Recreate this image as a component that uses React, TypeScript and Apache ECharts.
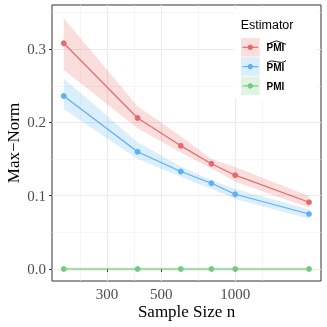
import React, { useEffect, useRef } from "react";
import * as echarts from "echarts";

// ---- data ----
const sampleSizes = [200, 400, 600, 800, 1000, 2000];

const hatValues = [0.308, 0.206, 0.168, 0.1436, 0.128, 0.091];
const hatLower = [0.2715, 0.192, 0.159, 0.137, 0.119, 0.0835];
const hatUpper = [0.342, 0.222, 0.181, 0.15, 0.139, 0.0996];

const tildeValues = [0.236, 0.16, 0.133, 0.117, 0.102, 0.075];
const tildeLower = [0.218, 0.15, 0.126, 0.1096, 0.0955, 0.0685];
const tildeUpper = [0.26, 0.173, 0.14, 0.121, 0.109, 0.081];

const trueValues = [0, 0, 0, 0, 0, 0];
const trueLower = [-0.002, -0.002, -0.002, -0.002, -0.002, -0.002];
const trueUpper = [0.002, 0.002, 0.002, 0.002, 0.002, 0.002];

const xTickLabels = [300, 500, 1000];
const yTickValues = [0, 0.1, 0.2, 0.3];
const yMinorGrid = [0.05, 0.15, 0.25, 0.35];

const RED = "#E8696B";
const BLUE = "#5DB0F2";
const GREEN = "#78C97F";
const RED_FILL = "rgba(232,105,107,0.22)";
const BLUE_FILL = "rgba(93,176,242,0.22)";
const GREEN_FILL = "rgba(120,201,127,0.22)";

const lx = (v: number) => Math.log10(v);
const xs = sampleSizes.map(lx);

// ggplot-style minor breaks (midpoints in transformed space)
const majorT = xTickLabels.map(lx);
const bd = majorT[1] - majorT[0];
const extT = [majorT[0] - bd, ...majorT, majorT[majorT.length - 1] + bd];
const xMinorGrid: number[] = [];
for (let i = 0; i < extT.length - 1; i++) xMinorGrid.push((extT[i] + extT[i + 1]) / 2);

function ribbon(lower: number[], upper: number[], fill: string) {
  return {
    type: "custom",
    silent: true,
    z: 1,
    clip: true,
    data: xs.map((x, i) => [x, lower[i], upper[i]]),
    encode: { x: 0, y: [1, 2] },
    renderItem: (params: any, api: any) => {
      if (params.dataIndex !== 0) return null;
      const pts: number[][] = [];
      for (let i = 0; i < xs.length; i++) pts.push(api.coord([xs[i], upper[i]]));
      for (let i = xs.length - 1; i >= 0; i--) pts.push(api.coord([xs[i], lower[i]]));
      return { type: "polygon", shape: { points: pts }, style: { fill } };
    },
  };
}

function lineSeries(name: string, vals: number[], color: string) {
  return {
    type: "line",
    name,
    z: 3,
    data: xs.map((x, i) => [x, vals[i]]),
    symbol: "circle",
    symbolSize: 5.8,
    itemStyle: { color },
    lineStyle: { color, width: 1.2 },
  };
}

const SERIF = "'Liberation Serif', 'Times New Roman', serif";
const SANS = "'Liberation Sans', Arial, sans-serif";

function legendGraphic() {
  const keyColors = [
    [RED, RED_FILL],
    [BLUE, BLUE_FILL],
    [GREEN, GREEN_FILL],
  ];
  const els: any[] = [
    { type: "rect", shape: { x: 234, y: 9, width: 82, height: 90 }, style: { fill: "#ffffff" }, z: 10 },
    {
      type: "text",
      x: 240.7,
      y: 25,
      style: { text: "Estimator", font: `12.5px ${SANS}`, fill: "#000", verticalAlign: "middle" },
      z: 11,
    },
  ];
  keyColors.forEach(([c, f], i) => {
    const y0 = 38 + i * 19.3;
    const cy = y0 + 9.3;
    els.push({ type: "rect", shape: { x: 241, y: y0, width: 18.7, height: 18.5 }, style: { fill: f }, z: 11 });
    els.push({ type: "line", shape: { x1: 242.5, y1: cy, x2: 258.2, y2: cy }, style: { stroke: c, lineWidth: 1.2 }, z: 12 });
    els.push({ type: "circle", shape: { cx: 250.3, cy, r: 2.7 }, style: { fill: c }, z: 12 });
    els.push({
      type: "text",
      x: 266.5,
      y: cy + 0.6,
      style: { text: "PMI", font: `bold 10px ${SANS}`, fill: "#000", verticalAlign: "middle" },
      z: 12,
    });
  });
  // wide hat
  els.push({
    type: "polyline",
    shape: { points: [[267, 44.3], [276.5, 40.9], [286, 44.3]] },
    style: { stroke: "#000", lineWidth: 0.9, fill: null },
    z: 12,
  });
  // wide tilde
  els.push({
    type: "bezierCurve",
    shape: { x1: 267, y1: 62.8, cpx1: 272.5, cpy1: 57.8, cpx2: 280.5, cpy2: 65.6, x2: 286, y2: 60.6 },
    style: { stroke: "#000", lineWidth: 0.9, fill: null },
    z: 12,
  });
  return els;
}

export default function App() {
  const ref = useRef<HTMLDivElement>(null);
  useEffect(() => {
    if (!ref.current) return;
    const chart = echarts.init(ref.current, undefined, { renderer: "svg" });
    chart.setOption({
      animation: false,
      grid: {
        left: 52,
        right: 6,
        top: 5,
        bottom: 46,
        containLabel: false,
        outerBoundsMode: "none",
        show: true,
        borderColor: "#333333",
        borderWidth: 1,
        backgroundColor: "transparent",
      },
      xAxis: {
        type: "value",
        min: 2.2531,
        max: 3.3498,
        name: "Sample Size n",
        nameLocation: "middle",
        nameMoveOverlap: false,
        nameGap: 21.5,
        nameTextStyle: { fontFamily: SERIF, fontSize: 17, color: "#000" },
        axisLine: { show: false },
        splitLine: { show: false },
        axisTick: { show: true, length: 3, interval: 0, lineStyle: { color: "#333333" }, customValues: majorT },
        axisLabel: {
          customValues: majorT,
          interval: 0,
          hideOverlap: false,
          showMinLabel: true,
          showMaxLabel: true,
          formatter: (v: number) => String(Math.round(Math.pow(10, v))),
          fontFamily: SERIF,
          fontSize: 15,
          color: "#4D4D4D",
          margin: 5,
        },
      },
      yAxis: {
        type: "value",
        min: -0.0164,
        max: 0.3602,
        name: "Max\u2212Norm",
        nameLocation: "middle",
        nameMoveOverlap: false,
        nameGap: 30.5,
        nameTextStyle: { fontFamily: SERIF, fontSize: 17, color: "#000" },
        axisLine: { show: false },
        splitLine: { show: false },
        axisTick: { show: true, length: 3, interval: 0, lineStyle: { color: "#333333" }, customValues: yTickValues },
        axisLabel: {
          customValues: yTickValues,
          interval: 0,
          formatter: (v: number) => v.toFixed(1),
          fontFamily: SERIF,
          fontSize: 15,
          color: "#4D4D4D",
          margin: 6,
        },
      },
      series: [
        {
          type: "line",
          name: "grid",
          z: 0,
          data: [],
          silent: true,
          markLine: {
            z: 0,
            silent: true,
            symbol: ["none", "none"],
            label: { show: false },
            animation: false,
            data: [
              ...xMinorGrid.map((v) => ({ xAxis: v, lineStyle: { color: "#EEEEEE", width: 0.6, type: "solid" } })),
              ...yMinorGrid.map((v) => ({ yAxis: v, lineStyle: { color: "#EEEEEE", width: 0.6, type: "solid" } })),
              ...majorT.map((v) => ({ xAxis: v, lineStyle: { color: "#EBEBEB", width: 1.1, type: "solid" } })),
              ...yTickValues.map((v) => ({ yAxis: v, lineStyle: { color: "#EBEBEB", width: 1.1, type: "solid" } })),
            ],
          },
        },
        ribbon(hatLower, hatUpper, RED_FILL),
        ribbon(tildeLower, tildeUpper, BLUE_FILL),
        ribbon(trueLower, trueUpper, GREEN_FILL),
        lineSeries("PMI hat", hatValues, RED),
        lineSeries("PMI tilde", tildeValues, BLUE),
        lineSeries("PMI", trueValues, GREEN),
      ],
      graphic: legendGraphic(),
    });
    return () => chart.dispose();
  }, []);
  return <div ref={ref} style={{ position: "fixed", left: 0, top: 0, width: 327, height: 327 }} />;
}
